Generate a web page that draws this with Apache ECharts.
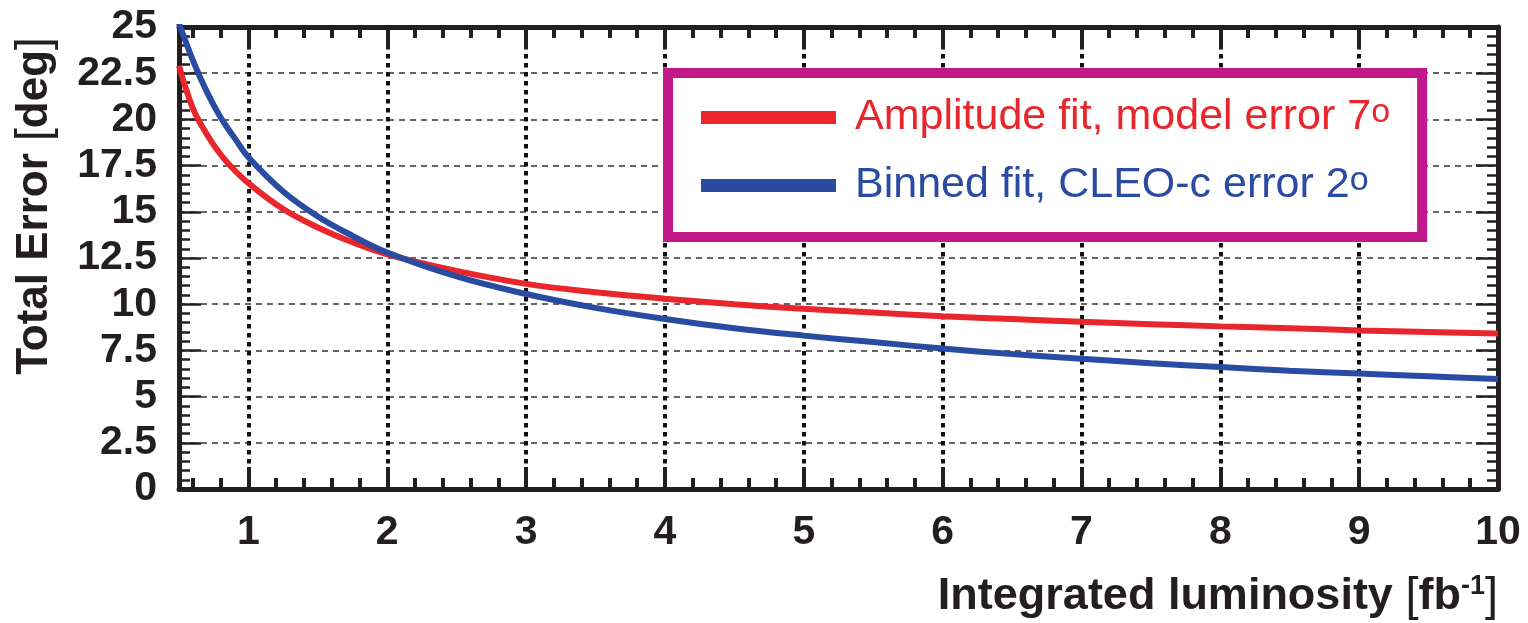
<!DOCTYPE html>
<html>
<head>
<meta charset="utf-8">
<script src="https://cdn.jsdelivr.net/npm/echarts@6/dist/echarts.min.js"></script>
<style>
  html, body { margin: 0; padding: 0; background: #fff; }
  #chart { width: 1528px; height: 623px; }
</style>
</head>
<body>
<div id="chart"></div>
<script>
// Integrated luminosity [fb^-1]
const luminosity = [0.5, 0.6, 0.7, 0.8, 0.9, 1.0, 1.25, 1.5, 1.75, 2.0, 2.5, 3.0, 3.5, 4.0, 4.5,
                    5.0, 5.5, 6.0, 6.5, 7.0, 7.5, 8.0, 8.5, 9.0, 9.5, 10.0];
// Total error [deg], amplitude fit with 7 deg model error
const amplitudeFit = [22.9, 20.6, 19.2, 18.1, 17.25, 16.55, 15.15, 14.15, 13.35, 12.7, 11.8, 11.1, 10.65, 10.3, 10.0,
                      9.75, 9.55, 9.35, 9.2, 9.05, 8.92, 8.8, 8.7, 8.58, 8.5, 8.42];
// Total error [deg], binned fit with 2 deg CLEO-c error
const binnedFit = [25.2, 23.2, 21.5, 20.1, 19.0, 17.95, 16.1, 14.75, 13.7, 12.8, 11.5, 10.55, 9.8, 9.2, 8.7,
                   8.3, 7.95, 7.6, 7.3, 7.05, 6.8, 6.6, 6.4, 6.25, 6.1, 5.95];

const seriesNames = ['Amplitude fit, model error 7', 'Binned fit, CLEO-c error 2'];
const seriesColors = ['#e8262b', '#2a4ba2'];

// x-axis ticks: labelled integers and 0.2 minor steps
const xMajorTicks = [1, 2, 3, 4, 5, 6, 7, 8, 9, 10];
const xMinorTicks = [];
for (let k = 6; k < 100; k += 2) {
  if (k % 10 !== 0) xMinorTicks.push(k / 10);
}

const FONT = 'Liberation Sans, Arial, Helvetica, sans-serif';
const INK = '#231f20';

function pairs(xs, ys) { return xs.map((x, i) => [x, ys[i]]); }

function xAxisDef(position, ticks, len, withLabels, withGrid, withLine) {
  return {
    type: 'value', gridIndex: 0, position: position, min: 0.5, max: 10,
    axisLine: { show: withLine, onZero: false, lineStyle: { color: INK, width: 5 } },
    axisTick: { show: true, inside: true, length: len, customValues: ticks,
                lineStyle: { color: INK, width: 4 } },
    axisLabel: withLabels ? {
      show: true, customValues: xMajorTicks, margin: 23,
      fontSize: 41, fontWeight: 'bold', fontFamily: FONT, color: INK
    } : { show: false },
    splitLine: withGrid ? { show: true, lineStyle: { color: '#111', width: 4, type: [4.5, 4.5] } } : { show: false },
    minorTick: { show: false }
  };
}

function yAxisDef(position, withLabels, withGrid) {
  return {
    type: 'value', gridIndex: 0, position: position, min: 0, max: 25, interval: 2.5,
    axisLine: { show: true, onZero: false, lineStyle: { color: INK, width: 5 } },
    axisTick: { show: true, inside: true, length: 22, lineStyle: { color: INK, width: 2.5 } },
    minorTick: { show: true, splitNumber: 5, length: 11, lineStyle: { color: INK, width: 2.5 } },
    axisLabel: withLabels ? {
      show: true, margin: 22, fontSize: 41, fontWeight: 'bold', fontFamily: FONT, color: INK
    } : { show: false },
    splitLine: withGrid ? { show: true, lineStyle: { color: '#333', width: 1.5, type: [6, 5] } } : { show: false }
  };
}

const chart = echarts.init(document.getElementById('chart'), null, { renderer: 'canvas' });

chart.setOption({
  animation: false,
  backgroundColor: '#fff',
  grid: { left: 179, right: 30, top: 27, bottom: 134, containLabel: false },
  xAxis: [
    xAxisDef('bottom', xMajorTicks, 22, true, true, true),
    xAxisDef('bottom', xMinorTicks, 11, false, false, false),
    xAxisDef('top', xMajorTicks, 22, false, false, true),
    xAxisDef('top', xMinorTicks, 11, false, false, false)
  ],
  yAxis: [
    yAxisDef('left', true, true),
    yAxisDef('right', false, false)
  ],
  legend: {
    orient: 'vertical',
    left: 668, top: 73,
    padding: [23, 32, 30, 33],
    itemGap: 25,
    itemWidth: 135, itemHeight: 13,
    icon: 'rect',
    backgroundColor: '#fff',
    borderColor: '#c2188a', borderWidth: 10,
    data: seriesNames.map((n, i) => ({ name: n, textStyle: { color: seriesColors[i] } })),
    formatter: name => name + (name === seriesNames[0] ? '{supR|o}' : '{supB|o}'),
    textStyle: {
      fontSize: 43, fontFamily: FONT, lineHeight: 43, padding: [0, 0, 0, 14],
      rich: {
        supR: { color: seriesColors[0], fontSize: 34, fontFamily: FONT, verticalAlign: 'top', lineHeight: 20 },
        supB: { color: seriesColors[1], fontSize: 34, fontFamily: FONT, verticalAlign: 'top', lineHeight: 20 }
      }
    }
  },
  graphic: [
    {
      type: 'text', x: 35, y: 206, rotation: Math.PI / 2,
      style: {
        text: '{b|Total Error }{r|[}{b|deg}{r|]}',
        align: 'center', verticalAlign: 'middle', fill: INK,
        rich: {
          b: { fontSize: 44, fontWeight: 'bold', fontFamily: FONT, color: INK },
          r: { fontSize: 46, fontWeight: 'normal', fontFamily: FONT, color: INK }
        }
      }
    },
    {
      type: 'text', x: 1498, y: 597,
      style: {
        text: '{b|Integrated luminosity }{r|[}{b|fb}{s|-1}{r|]}',
        align: 'right', verticalAlign: 'middle', fill: INK,
        rich: {
          b: { fontSize: 45, fontWeight: 'bold', fontFamily: FONT, color: INK },
          s: { fontSize: 27, fontWeight: 'bold', fontFamily: FONT, color: INK, verticalAlign: 'top', lineHeight: 30 },
          r: { fontSize: 47, fontWeight: 'normal', fontFamily: FONT, color: INK }
        }
      }
    }
  ],
  series: [
    {
      name: seriesNames[0], type: 'line', xAxisIndex: 0, yAxisIndex: 0,
      data: pairs(luminosity, amplitudeFit),
      smooth: 0.4, showSymbol: false, symbol: 'none', clip: true,
      lineStyle: { color: seriesColors[0], width: 6 },
      itemStyle: { color: seriesColors[0] }, z: 3
    },
    {
      name: seriesNames[1], type: 'line', xAxisIndex: 0, yAxisIndex: 0,
      data: pairs(luminosity, binnedFit),
      smooth: 0.4, showSymbol: false, symbol: 'none', clip: true,
      lineStyle: { color: seriesColors[1], width: 6 },
      itemStyle: { color: seriesColors[1] }, z: 3
    }
  ]
});
</script>
</body>
</html>
